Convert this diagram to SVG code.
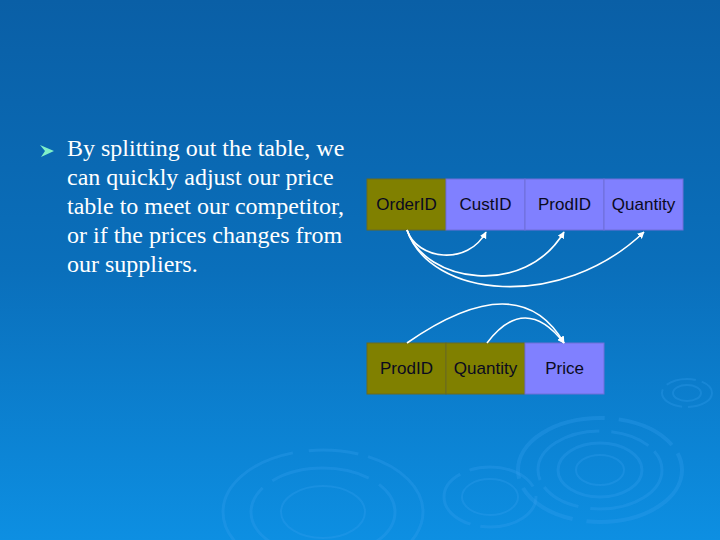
<svg xmlns="http://www.w3.org/2000/svg" width="720" height="540" viewBox="0 0 720 540">
<defs>
<linearGradient id="bg" x1="0" y1="0" x2="0" y2="1">
<stop offset="0" stop-color="#0a5fa6"/>
<stop offset="0.5" stop-color="#0a6fbb"/>
<stop offset="1" stop-color="#0d8fe2"/>
</linearGradient>
<marker id="ah" viewBox="0 0 10 10" refX="9" refY="5" markerWidth="7" markerHeight="7" orient="auto" markerUnits="userSpaceOnUse">
<path d="M0,0 L10,5 L0,10 z" fill="#ffffff"/>
</marker>
<style>
.pk{fill:#808000;stroke:#6a6a20;stroke-width:1}
.nk{fill:#8080ff;stroke:#6f6fd8;stroke-width:1}
.ct{font-family:"Liberation Sans",Arial,sans-serif;font-size:17px;fill:#0a0a20;text-anchor:middle}
.bt{font-family:"Liberation Serif","Times New Roman",serif;font-size:24px;fill:#ffffff}
.cn{fill:none;stroke:#ffffff;stroke-width:1.6;marker-end:url(#ah)}
.rp{fill:none;stroke:#3aa2f0;stroke-opacity:0.28}
</style>
</defs>
<rect width="720" height="540" fill="url(#bg)"/>
<g id="ripples">
<ellipse class="rp" cx="600" cy="470" rx="82" ry="52" stroke-width="4" stroke-dasharray="120 14 60 10"/>
<ellipse class="rp" cx="600" cy="470" rx="62" ry="39" stroke-width="3" stroke-dasharray="90 12 40 8"/>
<ellipse class="rp" cx="600" cy="470" rx="42" ry="27" stroke-width="3"/>
<ellipse class="rp" cx="600" cy="470" rx="24" ry="15" stroke-width="2"/>
<ellipse class="rp" cx="490" cy="497" rx="46" ry="30" stroke-width="3" stroke-dasharray="70 10"/>
<ellipse class="rp" cx="490" cy="497" rx="28" ry="18" stroke-width="2"/>
<ellipse class="rp" cx="323" cy="512" rx="100" ry="62" stroke-width="3" stroke-dasharray="140 16 50 10"/>
<ellipse class="rp" cx="323" cy="512" rx="72" ry="44" stroke-width="3" stroke-dasharray="100 12"/>
<ellipse class="rp" cx="323" cy="512" rx="42" ry="26" stroke-width="2"/>
<ellipse class="rp" cx="687" cy="393" rx="25" ry="14" stroke-width="2" stroke-dasharray="30 6"/>
<ellipse class="rp" cx="687" cy="393" rx="14" ry="8" stroke-width="2"/>
</g>
<g id="bullet-text">
<polygon points="40,145 54,151 41,157 45,151" fill="#7ff0c8"/>
<text class="bt" x="67" y="156">By splitting out the table, we</text>
<text class="bt" x="67" y="185">can quickly adjust our price</text>
<text class="bt" x="67" y="214">table to meet our competitor,</text>
<text class="bt" x="67" y="243">or if the prices changes from</text>
<text class="bt" x="67" y="272">our suppliers.</text>
</g>
<g id="table1">
<g id="t1-orderid"><rect class="pk" x="367" y="179" width="79" height="51"/><text class="ct" x="406.5" y="210">OrderID</text></g>
<g id="t1-custid"><rect class="nk" x="446" y="179" width="79" height="51"/><text class="ct" x="485.5" y="210">CustID</text></g>
<g id="t1-prodid"><rect class="nk" x="525" y="179" width="79" height="51"/><text class="ct" x="564.5" y="210">ProdID</text></g>
<g id="t1-quantity"><rect class="nk" x="604" y="179" width="79" height="51"/><text class="ct" x="643.5" y="210">Quantity</text></g>
</g>
<g id="table2">
<g id="t2-prodid"><rect class="pk" x="367" y="343" width="79" height="51"/><text class="ct" x="406.5" y="374">ProdID</text></g>
<g id="t2-quantity"><rect class="pk" x="446" y="343" width="79" height="51"/><text class="ct" x="485.5" y="374">Quantity</text></g>
<g id="t2-price"><rect class="nk" x="525" y="343" width="79" height="51"/><text class="ct" x="564.5" y="374">Price</text></g>
</g>
<g id="connectors">
<path class="cn" d="M407,230 C417,260 468,266 486,232"/>
<path class="cn" d="M407,230 C425,283 525,298 564,232"/>
<path class="cn" d="M407,230 C430,298 560,312 644,232"/>
<path class="cn" d="M407,343 Q519,265 564,343"/>
<path class="cn" d="M487,343 Q525,293 564,343"/>
</g>
</svg>
